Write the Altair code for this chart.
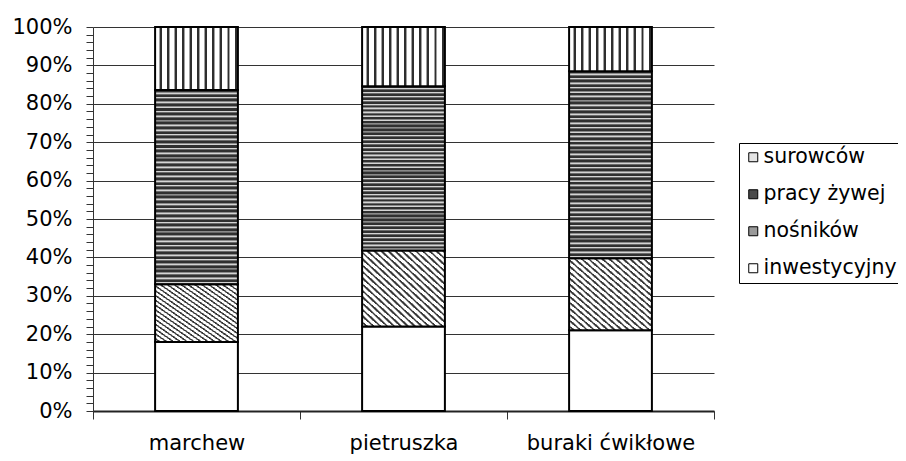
import altair as alt
import pandas as pd

categories = ["marchew", "pietruszka", "buraki ćwikłowe"]
series = ["inwestycyjny", "nośników", "pracy żywej", "surowców"]  # bottom -> top
inwestycyjny = [18.0, 22.0, 21.0]
nosnikow = [15.0, 19.8, 18.8]
pracy_zywej = [50.6, 42.8, 48.7]
surowcow = [16.4, 15.4, 11.5]

values = [inwestycyjny, nosnikow, pracy_zywej, surowcow]
rows = []
for si, (s, vals) in enumerate(zip(series, values)):
    for ci, c in enumerate(categories):
        rows.append({"cat": c, "series": s, "ord": si, "value": vals[ci] / 100.0})
df = pd.DataFrame(rows)

legend_order = ["surowców", "pracy żywej", "nośników", "inwestycyjny"]
legend_colors = ["#e4e4e4", "#4a4a4a", "#9a9a9a", "#ffffff"]

FONT = "DejaVu Sans"
FS = 21


def stripes(n, pattern, x1, y1, x2, y2):
    stops = []
    for k in range(n):
        for (a, b, col) in pattern:
            stops.append({"offset": (k + a) / n, "color": col})
            stops.append({"offset": (k + b) / n, "color": col})
    return {"gradient": "linear", "x1": x1, "y1": y1, "x2": x2, "y2": y2, "stops": stops}


vert = stripes(11, [(0, 0.55, "#ffffff"), (0.55, 0.62, "#a0a0a0"), (0.62, 0.88, "#2e2e2e"),
                    (0.88, 0.95, "#a0a0a0"), (0.95, 1, "#ffffff")], 0, 0, 1, 0)
horiz = stripes(42, [(0, 0.45, "#303030"), (0.45, 0.6, "#8a8a8a"), (0.6, 0.8, "#d4d4d4"),
                     (0.8, 1, "#6a6a6a")], 0, 0, 0, 1)
diag = stripes(24, [(0, 0.45, "#ffffff"), (0.45, 0.57, "#a0a0a0"), (0.57, 0.83, "#3a3a3a"),
                    (0.83, 0.95, "#a0a0a0"), (0.95, 1, "#ffffff")], 0, 1, 1, 0)
fills = {"surowców": vert, "pracy żywej": horiz, "nośników": diag, "inwestycyjny": "#ffffff"}

tick_vals = [i / 50 for i in range(51)]

base = alt.Chart(df).transform_stack(
    stack="value", groupby=["cat"], as_=["lo", "hi"], sort=[alt.SortField("ord", order="ascending")]
)

x_scale = alt.Scale(paddingInner=0, paddingOuter=0)
x_enc = alt.X(
    "cat:N", sort=categories, title=None, scale=x_scale,
    axis=alt.Axis(labelAngle=0, tickBand="extent", tickSize=8, tickColor="#333333",
                  domainColor="#222222", domainWidth=2, labelFont=FONT, labelFontSize=FS,
                  labelColor="#000000", labelPadding=13, grid=False),
)
y_enc = alt.Y(
    "lo:Q", title=None, scale=alt.Scale(domain=[0, 1], nice=False, zero=True),
    axis=alt.Axis(values=tick_vals, tickCount=60, format=".0%",
                  labelExpr="round(datum.value*100) % 10 === 0 ? format(datum.value, '.0%') : ''",
                  labelOverlap=False, tickSize=7, tickColor="#333333", domainColor="#333333",
                  labelFont=FONT, labelFontSize=FS, labelColor="#000000", labelPadding=14,
                  grid=True, gridColor="#333333",
                  gridOpacity={"condition": {"test": "round(datum.value*100) % 10 !== 0", "value": 0}, "value": 1}),
)

bars = base.mark_bar(width={"band": 0.4}).encode(
    x=x_enc, y=y_enc, y2="hi:Q",
    color=alt.Color("series:N", scale=alt.Scale(domain=legend_order, range=legend_colors),
                    legend=alt.Legend(title=None, orient="none", legendX=646, legendY=116,
                                      strokeColor="#000000", fillColor="#ffffff", padding=4,
                                      symbolType="square", symbolSize=81, symbolStrokeColor="#000000",
                                      symbolStrokeWidth=1, symbolOpacity=1, labelFont=FONT,
                                      labelFontSize=20.5, labelColor="#000000", labelOffset=0,
                                      rowPadding=16)),
)

layers = [bars]
for s in series:
    layers.append(
        base.transform_filter(alt.datum.series == s).mark_bar(
            width={"band": 0.4}, fill=fills[s], stroke="#000000", strokeWidth=2
        ).encode(x=alt.X("cat:N", sort=categories, scale=x_scale), y="lo:Q", y2="hi:Q")
    )

chart = alt.layer(*layers).properties(
    width=621, height=384,
    autosize=alt.AutoSizeParams(type="none"),
    padding={"left": 85, "top": 19, "right": 184, "bottom": 46},
).configure_view(stroke=None)

chart.save("out.html", embed_options={"renderer": "svg", "actions": False})
